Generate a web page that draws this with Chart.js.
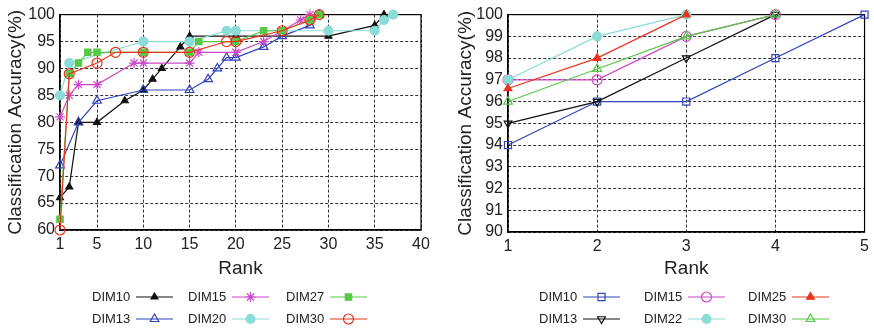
<!DOCTYPE html>
<html>
<head>
<meta charset="utf-8">
<script src="https://cdn.jsdelivr.net/npm/chart.js@4.4.1/dist/chart.umd.min.js"></script>
<style>
html, body { margin: 0; padding: 0; background: #fff; }
#wrap { position: relative; width: 874px; height: 333px; }
.box { position: absolute; top: 0; height: 333px; }
#left { left: 0; width: 440px; }
#right { left: 440px; width: 434px; }
</style>
</head>
<body>
<div id="wrap">
  <div class="box" id="left"><canvas id="rankLeft"></canvas></div>
  <div class="box" id="right"><canvas id="rankRight"></canvas></div>
</div>
<script>
// ---- left panel data ----
const leftRankTicks = [1, 5, 10, 15, 20, 25, 30, 35, 40];
const leftAccTicks = [60, 65, 70, 75, 80, 85, 90, 95, 100];

const dim10Rank = [1, 2, 3, 5, 8, 10, 11, 12, 14, 15, 20, 30, 35, 36];
const dim10Acc  = [66, 68, 80, 80, 84, 86, 88, 90, 94, 96, 96, 96, 98, 100];
const dim13Rank = [1, 3, 5, 10, 15, 17, 18, 19, 20, 23, 25, 28, 29];
const dim13Acc  = [72, 80, 84, 86, 86, 88, 90, 92, 92, 94, 96, 98, 100];
const dim15Rank = [1, 2, 3, 5, 9, 10, 15, 16, 20, 23, 27, 28];
const dim15Acc  = [81, 85, 87, 87, 91, 91, 91, 93, 93, 95, 99, 100];
const dim20Rank = [1, 2, 10, 15, 19, 20, 30, 35, 36, 37];
const dim20Acc  = [85, 91, 95, 95, 97, 97, 97, 97, 99, 100];
const dim27Rank = [1, 2, 3, 4, 5, 10, 15, 16, 20, 23, 25, 28, 29];
const dim27Acc  = [62, 89, 91, 93, 93, 93, 93, 95, 95, 97, 97, 99, 100];
const dim30Rank = [1, 2, 5, 7, 10, 15, 19, 20, 25, 28, 29];
const dim30Acc  = [60, 89, 91, 93, 93, 93, 95, 95, 97, 99, 100];

// ---- right panel data ----
const rightRankTicks = [1, 2, 3, 4, 5];
const rightAccTicks = [90, 91, 92, 93, 94, 95, 96, 97, 98, 99, 100];
const rightRanks = [1, 2, 3, 4, 5];
const r10Acc = [94, 96, 96, 98, 100];
const r13Acc = [95, 96, 98, 100];
const r15Acc = [97, 97, 99, 100];
const r22Acc = [97, 99, 100];
const r25Acc = [96.6, 98, 100];
const r30Acc = [96, 97.5, 99, 100];

const FONT = '"Liberation Sans", Arial, Helvetica, sans-serif';
Chart.defaults.font.family = FONT;
Chart.defaults.color = '#222';

const BLACK = '#111111';
const BLUE = '#3344b8';
const MAGENTA = '#cc48c8';
const CYAN = '#8adcd6';
const GREEN = '#58c848';
const RED = '#e8341f';

function pts(xs, ys) {
    return ys.map((y, i) => ({ x: xs[i], y: y }));
}

function series(label, xs, ys, color, style, filled, radius, rotation) {
    return {
        label: label,
        data: pts(xs, ys),
        borderColor: color,
        backgroundColor: color,
        borderWidth: 1.2,
        pointStyle: style,
        pointRadius: radius,
        pointBorderWidth: 1.2,
        pointBorderColor: color,
        pointBackgroundColor: filled ? color : 'rgba(0,0,0,0)',
        pointRotation: rotation || 0,
        tension: 0,
        clip: false
    };
}

// box around the plot area (matlab "box on")
function strokeBox(chart) {
    const a = chart.chartArea;
    const ctx = chart.ctx;
    ctx.save();
    ctx.strokeStyle = '#000';
    ctx.lineWidth = 1.2;
    ctx.strokeRect(a.left, a.top, a.right - a.left, a.bottom - a.top);
    ctx.restore();
}
const boxPlugin = {
    id: 'plotBox',
    beforeDatasetsDraw: strokeBox
};

// legend: "DIM10 ---marker---" in 3 columns x 2 rows
const sideLegend = {
    id: 'sideLegend',
    afterDraw(chart, args, opts) {
        const ctx = chart.ctx;
        chart.data.datasets.forEach((ds, i) => {
            const tx = opts.cols[Math.floor(i / 2)];
            const ty = opts.rows[i % 2];
            const x0 = tx + 44;
            const x1 = x0 + 37;
            ctx.save();
            ctx.font = '13px ' + FONT;
            ctx.textBaseline = 'middle';
            ctx.textAlign = 'left';
            ctx.fillStyle = '#222';
            ctx.fillText(ds.label, tx, ty);
            ctx.strokeStyle = ds.borderColor;
            ctx.lineWidth = 1.2;
            ctx.beginPath();
            ctx.moveTo(x0, ty);
            ctx.lineTo(x1, ty);
            ctx.stroke();
            ctx.fillStyle = ds.pointBackgroundColor;
            ctx.strokeStyle = ds.pointBorderColor;
            ctx.lineWidth = ds.pointBorderWidth;
            Chart.helpers.drawPoint(ctx, {
                pointStyle: ds.pointStyle,
                radius: ds.pointRadius,
                rotation: ds.pointRotation,
                borderWidth: ds.pointBorderWidth
            }, (x0 + x1) / 2, ty);
            ctx.restore();
        });
    }
};

function axisOpts(min, max, tickValues, title, fitSize, isX) {
    return {
        type: 'linear',
        min: min,
        max: max,
        afterBuildTicks: s => { s.ticks = tickValues.map(v => ({ value: v })); },
        afterFit: s => { if (isX) s.height = fitSize; else s.width = fitSize; },
        grid: { color: '#333', lineWidth: 1, drawTicks: false },
        border: { display: true, color: '#000', width: 1.2, dash: [3, 2] },
        ticks: { font: { size: 16 }, color: '#222', padding: 5, autoSkip: false, maxRotation: 0 },
        title: { display: true, text: title, font: { size: 19 }, color: '#222', padding: { top: 2, bottom: 0 } }
    };
}

function baseOptions(xAxis, yAxis, padding, legendCols) {
    return {
        responsive: true,
        maintainAspectRatio: false,
        animation: false,
        layout: { padding: padding },
        scales: { x: xAxis, y: yAxis },
        plugins: {
            legend: { display: false },
            tooltip: { enabled: false },
            sideLegend: { cols: legendCols, rows: [297, 319] }
        }
    };
}

const leftSets = [
    series('DIM10', dim10Rank, dim10Acc, BLACK, 'triangle', true, 4),
    series('DIM13', dim13Rank, dim13Acc, BLUE, 'triangle', false, 5),
    series('DIM15', dim15Rank, dim15Acc, MAGENTA, 'star', false, 5),
    series('DIM20', dim20Rank, dim20Acc, CYAN, 'circle', true, 4.5),
    series('DIM27', dim27Rank, dim27Acc, GREEN, 'rect', true, 4.5),
    series('DIM30', dim30Rank, dim30Acc, RED, 'circle', false, 5)
];
leftSets.forEach((d, i) => { d.order = leftSets.length - i; });

new Chart(document.getElementById('rankLeft'), {
    type: 'line',
    data: { datasets: leftSets },
    options: baseOptions(
        axisOpts(1, 40, leftRankTicks, 'Rank', 50, true),
        axisOpts(60, 100, leftAccTicks, 'Classification Accuracy(%)', 58, false),
        { left: 2, right: 19, top: 13, bottom: 53 },
        [92, 188, 286]
    ),
    plugins: [boxPlugin, sideLegend]
});

const rightSets = [
    series('DIM10', rightRanks, r10Acc, BLUE, 'rect', false, 5),
    series('DIM13', rightRanks, r13Acc, BLACK, 'triangle', false, 4.5, 180),
    series('DIM15', rightRanks, r15Acc, MAGENTA, 'circle', false, 5),
    series('DIM22', rightRanks, r22Acc, CYAN, 'circle', true, 4.5),
    series('DIM25', rightRanks, r25Acc, RED, 'triangle', true, 4.5),
    series('DIM30', rightRanks, r30Acc, GREEN, 'triangle', false, 5)
];
rightSets.forEach((d, i) => { d.order = rightSets.length - i; });

new Chart(document.getElementById('rankRight'), {
    type: 'line',
    data: { datasets: rightSets },
    options: baseOptions(
        axisOpts(1, 5, rightRankTicks, 'Rank', 48, true),
        axisOpts(90, 100, rightAccTicks, 'Classification Accuracy(%)', 56, false),
        { left: 12, right: 6, top: 13, bottom: 53 },
        [99, 204, 308]
    ),
    plugins: [boxPlugin, sideLegend]
});
</script>
</body>
</html>
